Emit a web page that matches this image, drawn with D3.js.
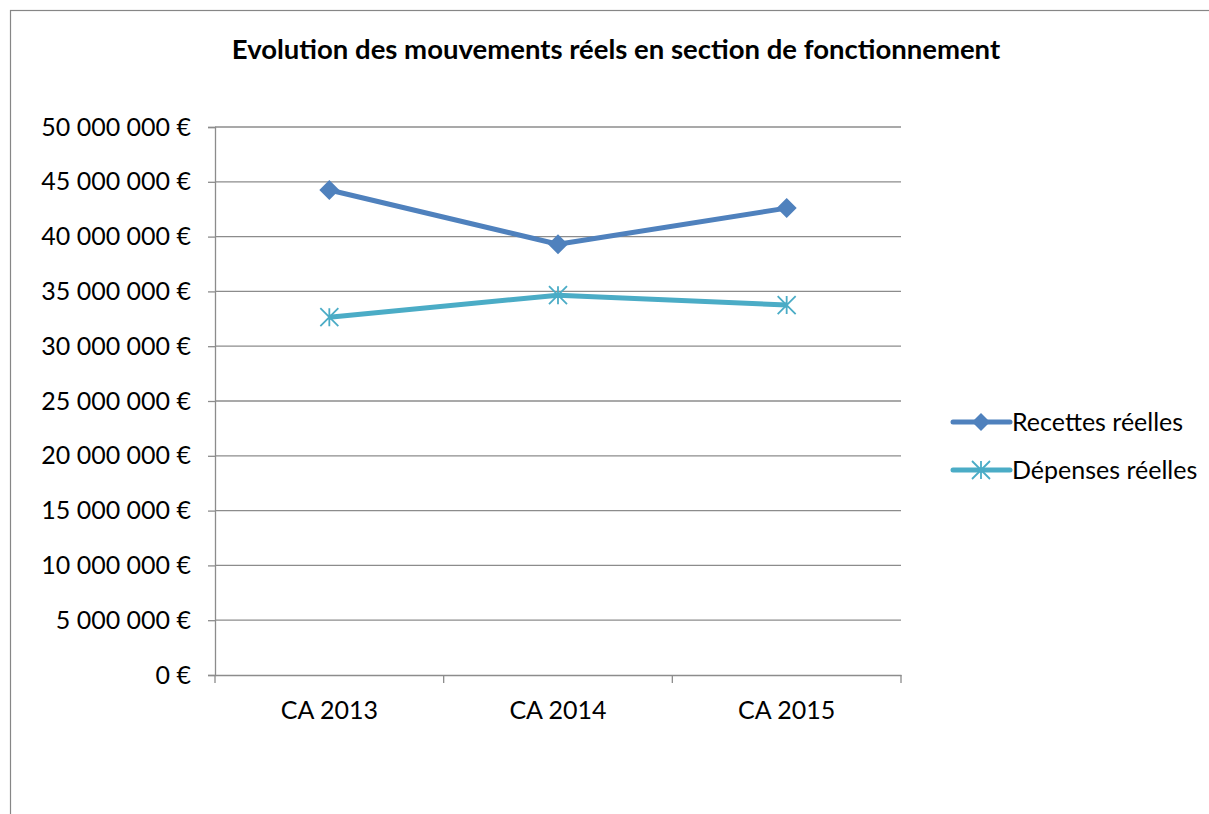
<!DOCTYPE html>
<html><head><meta charset="utf-8">
<script src="https://cdn.jsdelivr.net/npm/d3@7"></script>
<style>body{margin:0;background:#fff}svg{display:block}text{font-family:Lato,"Open Sans",sans-serif}</style>
</head><body>
<svg id="c" width="1209" height="814"></svg>
<script>
const categories = ["CA 2013", "CA 2014", "CA 2015"];
const recettes = [44250000, 39300000, 42600000];
const depenses = [32650000, 34650000, 33750000];
const yTicks = [0, 5000000, 10000000, 15000000, 20000000, 25000000, 30000000, 35000000, 40000000, 45000000, 50000000];
const seriesNames = ["Recettes réelles", "Dépenses réelles"];
const colors = ["#4F81BD", "#4BACC6"];
const title = "Evolution des mouvements réels en section de fonctionnement";

const svg = d3.select("#c");
svg.append("rect").attr("x",10.5).attr("y",10.5).attr("width",1300).attr("height",900)
  .attr("fill","#fff").attr("stroke","#868686").attr("stroke-width",1.2);

const L=215, R=901, T=127, B=675;
const x = d3.scaleBand().domain(categories).range([L,R]);
const y = d3.scaleLinear().domain([0,50000000]).range([B,T]);

svg.append("text").attr("x",616).attr("y",59).attr("text-anchor","middle")
  .attr("font-size",27.5).attr("font-weight","bold").text(title);

const fmt = v => d3.format(",")(v).replace(/,/g," ") + " €";

// gridlines
svg.append("g").selectAll("line").data(yTicks.filter(d=>d>0)).join("line")
  .attr("x1",L).attr("x2",R).attr("y1",d=>y(d)).attr("y2",d=>y(d))
  .attr("stroke","#8c8c8c").attr("stroke-width",1.3);

const yAxis = svg.append("g").attr("transform",`translate(${L},0)`)
  .call(d3.axisLeft(y).tickValues(yTicks).tickFormat(fmt).tickSize(7).tickPadding(17));
yAxis.select(".domain").attr("stroke","#8c8c8c").attr("stroke-width",1.3);
yAxis.selectAll(".tick line").attr("stroke","#8c8c8c").attr("stroke-width",1.3);
yAxis.selectAll("text").attr("font-size",25).attr("fill","#000").attr("font-family","Lato,sans-serif");

const xAxis = svg.append("g").attr("transform",`translate(0,${B})`)
  .call(d3.axisBottom(x).tickSize(0).tickPadding(26));
xAxis.select(".domain").attr("stroke","#8c8c8c").attr("stroke-width",1.3);
xAxis.selectAll("text").attr("font-size",25).attr("fill","#000").attr("font-family","Lato,sans-serif");
svg.append("g").selectAll("line").data(d3.range(categories.length+1)).join("line")
  .attr("x1",i=>L+i*x.step()).attr("x2",i=>L+i*x.step()).attr("y1",B).attr("y2",B+8)
  .attr("stroke","#8c8c8c").attr("stroke-width",1.3);

const cx = c => x(c)+x.bandwidth()/2;
const line = d3.line().x((d,i)=>cx(categories[i])).y(d=>y(d));
const data = [recettes, depenses];

function diamond(g, px, py, s){
  g.append("path").attr("d",`M${px},${py-s}L${px+s},${py}L${px},${py+s}L${px-s},${py}Z`).attr("fill",colors[0]);
}
function star(g, px, py, s){
  const d = `M${px-s},${py-s}L${px+s},${py+s}M${px-s},${py+s}L${px+s},${py-s}M${px},${py-s}L${px},${py+s}`;
  g.append("path").attr("d",d).attr("stroke",colors[1]).attr("stroke-width",1.8).attr("fill","none");
}

data.forEach((vals,si)=>{
  svg.append("path").datum(vals).attr("d",line).attr("fill","none")
    .attr("stroke",colors[si]).attr("stroke-width",5).attr("stroke-linejoin","round");
  const g = svg.append("g");
  vals.forEach((v,i)=>{
    if(si===0) diamond(g, cx(categories[i]), y(v), 10);
    else star(g, cx(categories[i]), y(v), 9);
  });
});

// legend
const legY = [422, 470];
seriesNames.forEach((n,i)=>{
  const g = svg.append("g");
  g.append("line").attr("x1",953).attr("x2",1010).attr("y1",legY[i]).attr("y2",legY[i])
    .attr("stroke",colors[i]).attr("stroke-width",5).attr("stroke-linecap","round");
  if(i===0) diamond(g, 981, legY[i], 9); else star(g, 981, legY[i], 9);
  g.append("text").attr("x",1012).attr("y",legY[i]+9).attr("font-size",25).text(n);
});
</script>
</body></html>
